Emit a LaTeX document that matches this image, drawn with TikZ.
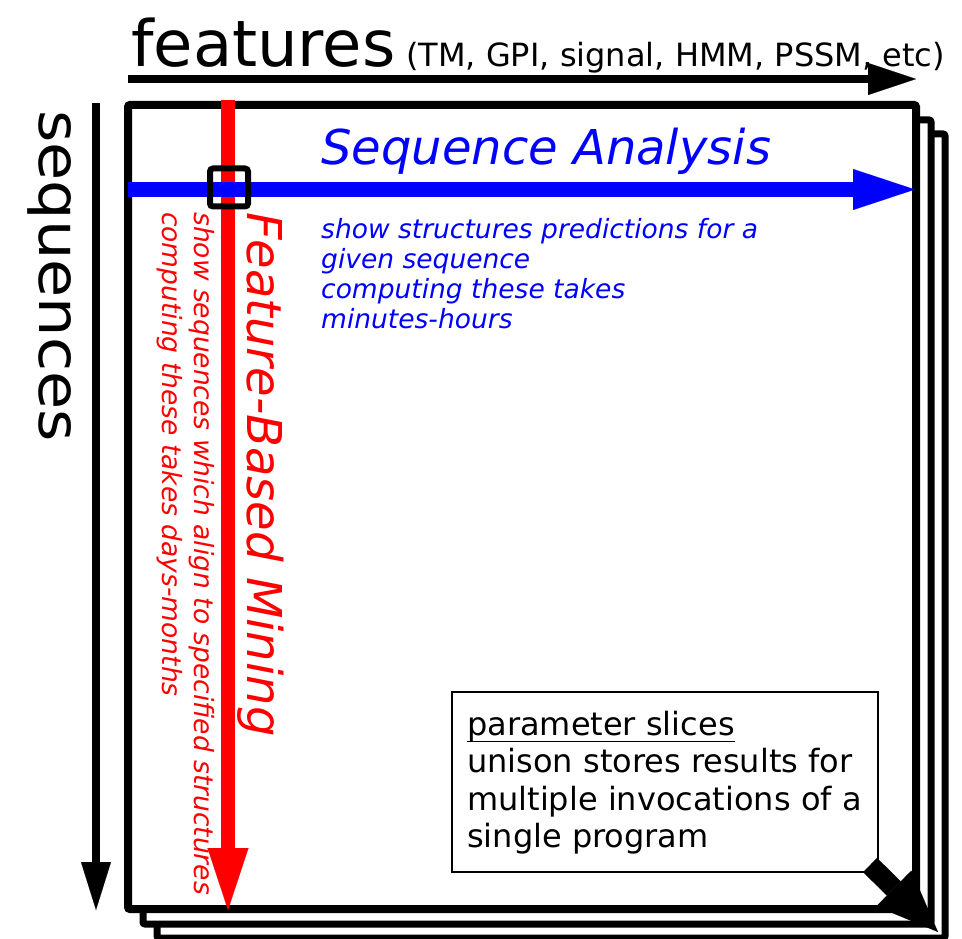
\documentclass[tikz,border=0pt]{standalone}
\usepackage{fontspec}
\usepackage{graphicx}
\setmainfont{DejaVu Sans}
\usetikzlibrary{arrows.meta}
\definecolor{seqblue}{RGB}{0,0,255}
\definecolor{minered}{RGB}{255,0,0}
\begin{document}
\begin{tikzpicture}[x=1pt,y=-1pt,
  sheet/.style={draw=black, fill=white, line width=7pt, rounded corners=2pt},
  axisarrow/.style={line width=8pt, -{Triangle[length=48pt,width=32pt,line width=0.1pt]}},
  bigarrow/.style={line width=15pt, -{Triangle[length=62pt,width=41pt,line width=0.1pt]}},
  lbl/.style={anchor=base west, inner sep=0pt},
  vlbl/.style={anchor=base west, inner sep=0pt, rotate=-90},
  fs/.style={font=\fontsize{#1}{#1}\selectfont},
  fsi/.style={font=\fontsize{#1}{#1}\selectfont\itshape}]
\useasboundingbox (0,0) rectangle (962,939);

% stacked result sheets, back to front
\draw[sheet] (157,134) rectangle (945,938);
\draw[sheet] (143,120) rectangle (931,924);
\draw[sheet, line width=8pt] (128,105) rectangle (916,909);

% axes
\coordinate (featL) at (128,79);
\coordinate (featR) at (916,79);
\draw[axisarrow] (featL) -- (featR);
\coordinate (seqT) at (96,103);
\coordinate (seqB) at (96,910);
\draw[axisarrow, -{Triangle[length=48pt,width=30pt,line width=0.1pt]}] (seqT) -- (seqB);

\node[lbl, fs=64] (features) at (131,67) {features};
\node[lbl, fs=32] (featlist) at (406,67) {(TM, GPI, signal, HMM, PSSM, etc)};
\node[vlbl, fs=57] (sequences) at (39,110) {\scalebox{1.09}[1]{sequences}};

% feature-based mining (column)
\coordinate (fbmT) at (228,100);
\coordinate (fbmB) at (228,910);
\draw[bigarrow, line width=14pt, minered] (fbmT) -- (fbmB);
\node[vlbl, fsi=48, text=minered] (fbm) at (247,212) {Feature-Based Mining};
\node[vlbl, fsi=26.5, text=minered] (fbm1) at (194,212) {show sequences which align to specified structures};
\node[vlbl, fsi=26.5, text=minered] (fbm2) at (162,212) {computing these takes days-months};

% sequence analysis (row)
\coordinate (saL) at (128,189.5);
\coordinate (saR) at (915,189.5);
\draw[bigarrow, seqblue] (saL) -- (saR);
\node[lbl, fsi=48, text=seqblue] (sa) at (321,165) {Sequence Analysis};
\node[lbl, fsi=26.5, text=seqblue] (sa1) at (321,238) {show structures predictions for a};
\node[lbl, fsi=26.5, text=seqblue] (sa2) at (321,268) {given sequence};
\node[lbl, fsi=26.5, text=seqblue] (sa3) at (321,298) {computing these takes};
\node[lbl, fsi=26.5, text=seqblue] (sa4) at (321,328) {minutes-hours};

% single cell
\draw[line width=6pt, rounded corners=3pt] (210,168.5) rectangle (248,206.5);

% parameter slices note
\coordinate (pbNW) at (452,692);
\coordinate (pbSE) at (878,872);
\draw[line width=1.2pt, fill=white] (pbNW) rectangle (pbSE);
\node[lbl, fs=32] (ps) at (467,735) {parameter slices};
\draw[line width=1.6pt] ([yshift=-6.5pt]ps.base west) -- ([yshift=-6.5pt]ps.base east);
\node[lbl, fs=32] (ps1) at (467,772) {unison stores results for};
\node[lbl, fs=32] (ps2) at (467,810) {multiple invocations of a};
\node[lbl, fs=32] (ps3) at (467,847) {single program};

\coordinate (slA) at (870,865);
\coordinate (slB) at (938,932);
\draw[line width=20pt, -{Triangle[length=62pt,width=50pt,line width=0.1pt]}] (slA) -- (slB);
\end{tikzpicture}
\end{document}
